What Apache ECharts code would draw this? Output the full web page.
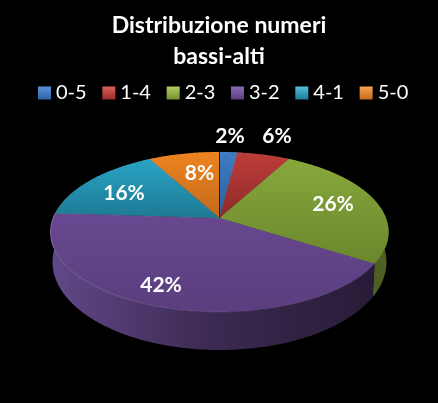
<!DOCTYPE html>
<html><head><meta charset="utf-8">
<script src="https://cdn.jsdelivr.net/npm/echarts@6/dist/echarts.min.js"></script>
<style>html,body{margin:0;padding:0;background:#000}#c{width:438px;height:403px}</style>
</head><body><div id="c"></div>
<script>
const categories = ['0-5','1-4','2-3','3-2','4-1','5-0'];
const values = [2,6,26,42,16,8];
const labelPos = [[230,136],[277,136],[333,204],[161,285],[124,193],[199.5,173]];
const topColors = [['#3f7cc6','#2a5f9c'],['#bd3d3a','#8f2a28'],['#88a83b','#6a872d'],['#684890','#5a3e7f'],['#2aa3c4','#1d7a95'],['#ee841f','#c26a1c']];
const sideColors = [['#1f3f68','#1f3f68'],['#6a1f1e','#6a1f1e'],['#3c491b','#4f6025'],['#604686','#291c38'],['#1a6075','#1a6075'],['#8a4a10','#8a4a10']];
const legendColors = [['#5b93d6','#2f62a6'],['#d9605c','#9a2c2a'],['#b0cc60','#75922f'],['#8d6ab5','#5c3f80'],['#4fc0dc','#1f7a94'],['#f6a550','#c8691a']];

const cx=219.5, cy=218, k=0.175, a=77.55, b=166.4;
const total = values.reduce((s,v)=>s+v,0);
const starts=[]; let acc=0;
values.forEach(v=>{starts.push(acc/total*360); acc+=v;});
function pTop(deg,r){const t=deg*Math.PI/180,u=r*Math.sin(t),v=-r*Math.cos(t),d=1-k*v;return [cx+b*u/d,cy+a*v/d];}
function pBottom(deg){const t=deg*Math.PI/180,u=Math.sin(t),v=-Math.cos(t),d=1-k*v;return [cx+0.988*b*u/d,cy+28.6+1.1*a*v/d];}
function arc(f,from,to){const pts=[];const n=Math.max(2,Math.ceil((to-from)));for(let i=0;i<=n;i++)pts.push(f(from+(to-from)*i/n,1));return pts;}
function grad(x,y,x2,y2,c,g){return new echarts.graphic.LinearGradient(x,y,x2,y2,c.map((col,j)=>({offset:j/(c.length-1),color:col})),g);}

const series = categories.map((name,i)=>({
  type:'custom', name, coordinateSystem:'none', silent:true, animation:false,
  itemStyle:{color:topColors[i][0]},
  data:[values[i]],
  renderItem(){
    const from=starts[i], to=from+values[i]/total*360;
    const top=arc(pTop,from,to), bot=arc(pBottom,from,to).reverse();
    const sideFill = i===3 ? grad(50,0,372,0,['#624888','#3b2a52','#281b37'],true) : grad(50,0,388,0,sideColors[i],true);
    const kids=[
      {type:'polygon',z2:1,shape:{points:top.concat(bot)},style:{fill:sideFill}},
      {type:'polygon',z2:2,shape:{points:[[cx,cy]].concat(top)},
       style:{fill:grad(0,0,0,1,topColors[i],false),stroke:'rgba(255,255,255,0.10)',lineWidth:0.6}},
      {type:'text',z2:5,style:{x:labelPos[i][0],y:labelPos[i][1],text:values[i]+'%',align:'center',verticalAlign:'middle',
        fill:'#fff',font:'bold 21px Lato'}}
    ];
    if(i===3) kids.push({type:'polyline',z2:3,shape:{points:top},
       style:{fill:null,lineWidth:1,stroke:grad(50,0,260,0,['rgba(200,170,240,0.35)','rgba(200,170,240,0)'],true)}});
    if(i===0) kids.push({type:'polyline',z2:4,shape:{points:[[cx,cy],pTop(from,1)]},style:{fill:null,stroke:'#15243a',lineWidth:1}});
    return {type:'group',children:kids};
  }
}));

const chart = echarts.init(document.getElementById('c'),null,{renderer:'canvas'});
chart.setOption({
  backgroundColor:'#000',
  animation:false,
  title:{text:'Distribuzione numeri\nbassi-alti',left:219,top:10,textAlign:'center',padding:0,
    textStyle:{color:'#fff',fontFamily:'Lato',fontWeight:'bold',fontSize:23,lineHeight:31,align:'center'}},
  legend:{top:83,left:38,padding:0,itemWidth:13,itemHeight:13,itemGap:15.7,icon:'rect',selectedMode:false,
    textStyle:{color:'#fff',fontFamily:'Lato',fontSize:20,padding:[0,0,0,0]},
    data:categories.map((name,i)=>({name,itemStyle:{color:grad(0,0,0,1,legendColors[i],false)}}))},
  series
});
</script></body></html>
